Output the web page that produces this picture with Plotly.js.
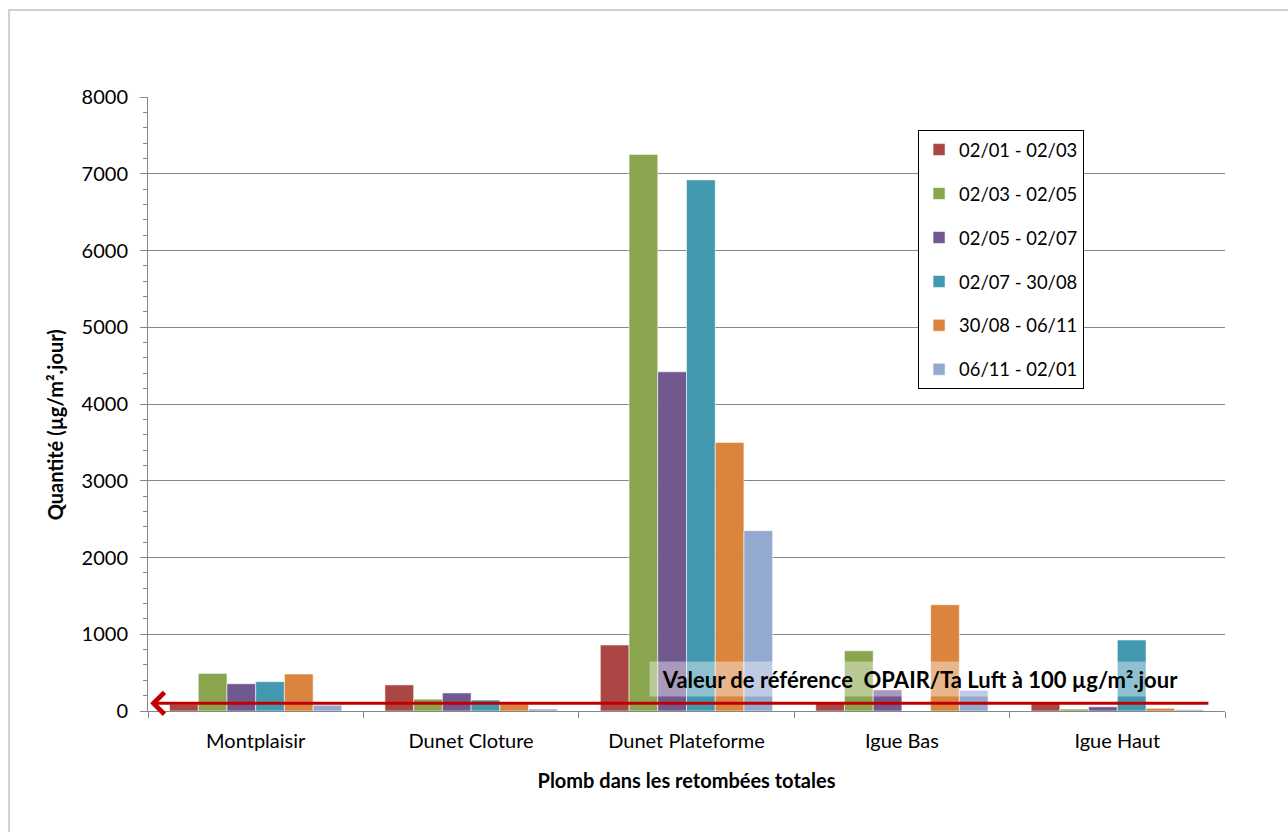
<!DOCTYPE html>
<html>
<head>
<meta charset="utf-8">
<script src="https://cdn.plot.ly/plotly-3.0.1.min.js"></script>
<style>
  html, body { margin: 0; padding: 0; background: #ffffff; }
  #chart { width: 1288px; height: 832px; }
</style>
</head>
<body>
<div id="chart"></div>
<script>
// ---- Data ----
const categories = ["Montplaisir", "Dunet Cloture", "Dunet Plateforme", "Igue Bas", "Igue Haut"];
const seriesNames = ["02/01 - 02/03", "02/03 - 02/05", "02/05 - 02/07", "02/07 - 30/08", "30/08 - 06/11", "06/11 - 02/01"];
const period1 = [90, 340, 860, 100, 100];     // 02/01 - 02/03
const period2 = [490, 155, 7250, 785, 25];    // 02/03 - 02/05
const period3 = [355, 235, 4420, 275, 55];    // 02/05 - 02/07
const period4 = [382, 143, 6920, 0, 925];     // 02/07 - 30/08
const period5 = [482, 90, 3500, 1385, 35];    // 30/08 - 06/11
const period6 = [75, 26, 2350, 270, 17];      // 06/11 - 02/01
const referenceValue = 100;
const referenceLabel = "Valeur de référence  OPAIR/Ta Luft à 100 µg/m².jour";
const yTitle = "Quantité (µg/m².jour)";
const xTitle = "Plomb dans les retombées totales";

const seriesValues = [period1, period2, period3, period4, period5, period6];
const colors = ["#AA4643", "#89A54E", "#71588F", "#4198AF", "#DB843D", "#93A9CF"];

const FONT = "Lato, 'Open Sans', sans-serif";

const traces = seriesValues.map((vals, i) => ({
  type: "bar",
  name: seriesNames[i],
  x: categories,
  y: vals,
  legendgroup: "g" + i,
  marker: { color: colors[i], line: { color: "rgba(255,255,255,0.55)", width: 1 } },
  hoverinfo: "x+y+name"
}));

const layout = {
  width: 1288,
  height: 832,
  paper_bgcolor: "#ffffff",
  plot_bgcolor: "#ffffff",
  margin: { l: 148, r: 63, t: 97, b: 121, pad: 0 },
  barmode: "group",
  bargap: 0.2,
  bargroupgap: 0,
  font: { family: FONT, size: 20, color: "#000000" },
  showlegend: true,
  legend: {
    x: 0.715, y: 0.946, xanchor: "left", yanchor: "top",
    bgcolor: "#ffffff", bordercolor: "#000000", borderwidth: 1,
    font: { family: FONT, size: 18.4, color: "#000000" },
    traceorder: "grouped", tracegroupgap: 17,
    itemclick: false
  },
  xaxis: {
    type: "category",
    range: [-0.5, categories.length - 0.5], autorange: false,
    showline: true, linecolor: "#868686", linewidth: 1,
    ticks: "outside", tickson: "boundaries", ticklen: 6, tickcolor: "#868686",
    ticklabelstandoff: 12,
    tickfont: { family: FONT, size: 20, color: "#000000" },
    showgrid: false, zeroline: false,
    title: { text: xTitle, font: { family: FONT, size: 20, color: "#000000", weight: "bold" }, standoff: 22 }
  },
  yaxis: {
    range: [0, 8000], autorange: false, dtick: 1000, tick0: 0,
    showline: true, linecolor: "#868686", linewidth: 1,
    ticks: "outside", ticklen: 7, tickcolor: "#868686",
    ticklabelstandoff: 8,
    showgrid: true, gridcolor: "#868686", gridwidth: 1,
    zeroline: false,
    minor: { dtick: 200, ticks: "outside", ticklen: 4, tickcolor: "#868686", showgrid: false },
    tickfont: { family: FONT, size: 20, color: "#000000" },
    title: { text: "" }
  },
  shapes: [
    { type: "rect", xref: "paper", yref: "paper",
      x0: -0.129, x1: 1.2, y0: -0.5, y1: 1.1417,
      line: { color: "#D0D0D0", width: 2 }, fillcolor: "rgba(0,0,0,0)", layer: "below" }
  ],
  annotations: [
    { // y-axis title (offset like the original)
      xref: "paper", yref: "paper", x: -0.0864, y: 0.467,
      xanchor: "center", yanchor: "middle", textangle: -90,
      text: "<b>" + yTitle + "</b>", showarrow: false,
      font: { family: FONT, size: 20, color: "#000000" }
    },
    { // reference line with arrow
      xref: "x", yref: "y", axref: "x", ayref: "y",
      x: -0.49, y: referenceValue, ax: 4.43, ay: referenceValue,
      text: "", showarrow: true, arrowhead: 4, arrowsize: 1.4, arrowwidth: 3,
      arrowcolor: "#C00000", standoff: 0, startstandoff: 0
    },
    { // label box
      xref: "paper", yref: "paper", x: 0.7168, y: 0.0521,
      xanchor: "center", yanchor: "middle",
      text: "<b>" + referenceLabel + "</b>", showarrow: false,
      font: { family: FONT, size: 22, color: "#000000" },
      bgcolor: "rgba(255,255,255,0.4)", width: 540, height: 34, borderpad: 0
    }
  ]
};

Plotly.newPlot("chart", traces, layout, { displayModeBar: false, staticPlot: true });
</script>
</body>
</html>
